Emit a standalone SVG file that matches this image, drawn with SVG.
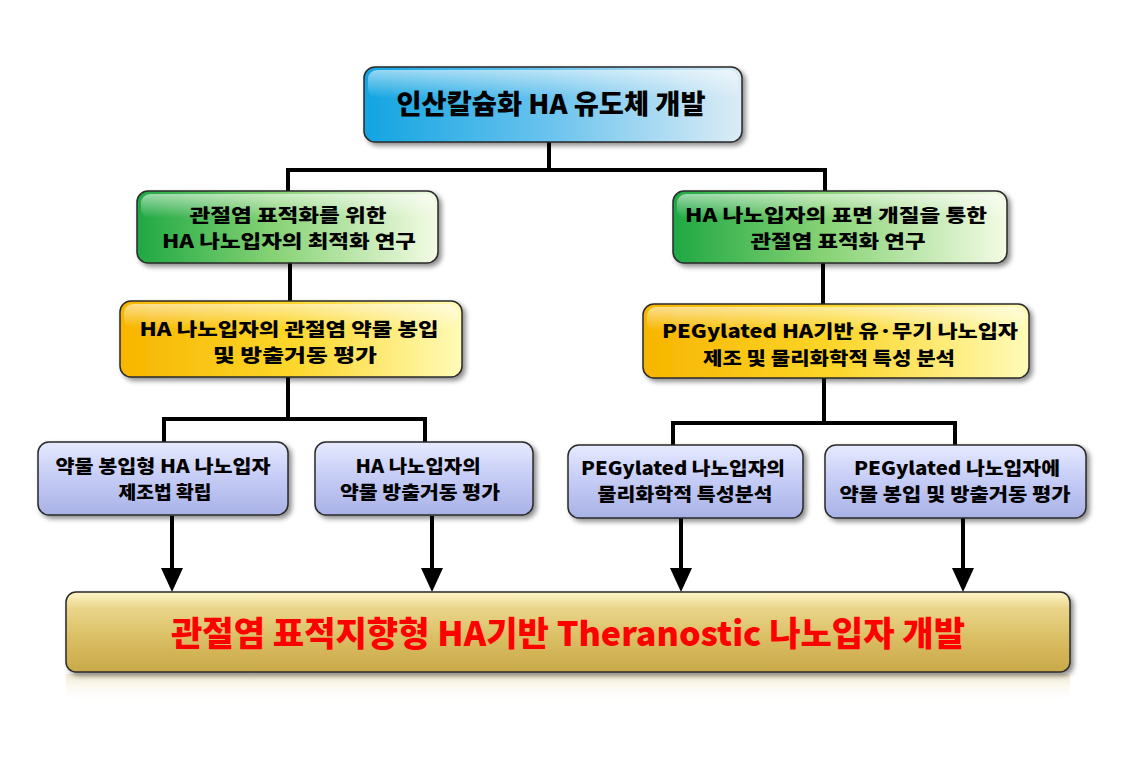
<svg xmlns="http://www.w3.org/2000/svg" width="1134" height="759" viewBox="0 0 1134 759">
<defs>
<linearGradient id="gBlue" x1="0" y1="0" x2="1" y2="0"><stop offset="0" stop-color="#12a4e2"/><stop offset="0.5" stop-color="#6cc4ee"/><stop offset="1" stop-color="#dcecf6"/></linearGradient>
<linearGradient id="gGreen" x1="0" y1="0" x2="1" y2="0"><stop offset="0" stop-color="#1fa843"/><stop offset="0.45" stop-color="#86d274"/><stop offset="1" stop-color="#f3fbe4"/></linearGradient>
<linearGradient id="gYellow" x1="0" y1="0" x2="1" y2="0"><stop offset="0" stop-color="#f7b500"/><stop offset="0.5" stop-color="#fcd62a"/><stop offset="1" stop-color="#fffbb8"/></linearGradient>
<linearGradient id="gLav" x1="0" y1="0" x2="0" y2="1"><stop offset="0" stop-color="#e6eaff"/><stop offset="0.5" stop-color="#c4cbf5"/><stop offset="1" stop-color="#a9b2e6"/></linearGradient>
<linearGradient id="gGold" x1="0" y1="0" x2="0" y2="1"><stop offset="0" stop-color="#fff6c8"/><stop offset="0.2" stop-color="#e9d58a"/><stop offset="0.6" stop-color="#d9bd62"/><stop offset="1" stop-color="#c9a94a"/></linearGradient>
<linearGradient id="gGloss" x1="0" y1="0" x2="0" y2="1"><stop offset="0" stop-color="#fff" stop-opacity="0.55"/><stop offset="1" stop-color="#fff" stop-opacity="0"/></linearGradient>
<linearGradient id="gRefl" x1="0" y1="0" x2="0" y2="1"><stop offset="0" stop-color="#e8dcae" stop-opacity="0.6"/><stop offset="1" stop-color="#ffffff" stop-opacity="0"/></linearGradient>
<filter id="sh" x="-10%" y="-20%" width="125%" height="150%"><feDropShadow dx="3" dy="3" stdDeviation="2.5" flood-color="#000" flood-opacity="0.45"/></filter>
<polygon id="ah" points="-11,-24 11,-24 0,0" fill="#000"/>
<style>
.box{stroke:#2a2a2a;stroke-width:1.5;filter:url(#sh)}
.gl{fill:url(#gGloss);stroke:none}
.ln{fill:none;stroke:#000;stroke-width:4;stroke-linejoin:miter}
.t{font-family:"Noto Sans CJK KR","Noto Sans",sans-serif;font-weight:900;text-anchor:middle;fill:#000}
.t17{font-size:18px}
.t18{font-size:18px}
.t22{font-size:27px}
.big{font-family:"Noto Sans CJK KR","Noto Sans",sans-serif;font-weight:900;font-size:34px;fill:#ff0000;text-anchor:middle}
</style>
</defs>
<rect width="1134" height="759" fill="#fff"/>

<g id="connectors">
<path class="ln" d="M549,142 V170 M288,194 V170 H825 V194"/>
<path class="ln" d="M290,263 V302"/>
<path class="ln" d="M823,263 V305"/>
<path class="ln" d="M288,377 V419 M164,443 V419 H425 V443"/>
<path class="ln" d="M824,378 V423 M673,446 V423 H955 V446"/>
<path class="ln" d="M172,516 V570"/>
<path class="ln" d="M432,516 V570"/>
<path class="ln" d="M681,518 V570"/>
<path class="ln" d="M963,518 V570"/>
<use href="#ah" x="172" y="592"/>
<use href="#ah" x="432" y="592"/>
<use href="#ah" x="681" y="592"/>
<use href="#ah" x="963" y="592"/>
</g>

<g id="n-top">
<rect class="box" x="364" y="67" width="378" height="75" rx="11" fill="url(#gBlue)"/>
<rect class="gl" x="368" y="70" width="370" height="28" rx="9"/>
<text class="t t22" x="551" y="114" textLength="309" lengthAdjust="spacingAndGlyphs">인산칼슘화 HA 유도체 개발</text>
</g>

<g id="n-green-left">
<rect class="box" x="137" y="191" width="301" height="72" rx="11" fill="url(#gGreen)"/>
<rect class="gl" x="141" y="194" width="293" height="24" rx="9"/>
<text class="t t18" x="288" y="222" textLength="197" lengthAdjust="spacingAndGlyphs">관절염 표적화를 위한</text>
<text class="t t18" x="289" y="248" textLength="254" lengthAdjust="spacingAndGlyphs">HA 나노입자의 최적화 연구</text>
</g>

<g id="n-green-right">
<rect class="box" x="673" y="191" width="334" height="72" rx="11" fill="url(#gGreen)"/>
<rect class="gl" x="677" y="194" width="326" height="24" rx="9"/>
<text class="t t18" x="836" y="222" textLength="302" lengthAdjust="spacingAndGlyphs">HA 나노입자의 표면 개질을 통한</text>
<text class="t t18" x="838" y="248" textLength="175" lengthAdjust="spacingAndGlyphs">관절염 표적화 연구</text>
</g>

<g id="n-yellow-left">
<rect class="box" x="120" y="301" width="342" height="76" rx="11" fill="url(#gYellow)"/>
<rect class="gl" x="124" y="304" width="334" height="24" rx="9"/>
<text class="t t18" x="289" y="336" textLength="299" lengthAdjust="spacingAndGlyphs">HA 나노입자의 관절염 약물 봉입</text>
<text class="t t18" x="295" y="362" textLength="164" lengthAdjust="spacingAndGlyphs">및 방출거동 평가</text>
</g>

<g id="n-yellow-right">
<rect class="box" x="643" y="304" width="386" height="74" rx="11" fill="url(#gYellow)"/>
<rect class="gl" x="647" y="307" width="378" height="24" rx="9"/>
<text class="t t18" x="840" y="338" textLength="356" lengthAdjust="spacingAndGlyphs">PEGylated HA기반 유·무기 나노입자</text>
<text class="t t18" x="829" y="365" textLength="252" lengthAdjust="spacingAndGlyphs">제조 및 물리화학적 특성 분석</text>
</g>

<g id="n-b1">
<rect class="box" x="38" y="442" width="250" height="73" rx="11" fill="url(#gLav)"/>
<text class="t t17" x="163" y="473" textLength="215" lengthAdjust="spacingAndGlyphs">약물 봉입형 HA 나노입자</text>
<text class="t t17" x="165" y="499" textLength="93" lengthAdjust="spacingAndGlyphs">제조법 확립</text>
</g>

<g id="n-b2">
<rect class="box" x="315" y="442" width="218" height="73" rx="11" fill="url(#gLav)"/>
<text class="t t17" x="418" y="473" textLength="125" lengthAdjust="spacingAndGlyphs">HA 나노입자의</text>
<text class="t t17" x="420" y="499" textLength="160" lengthAdjust="spacingAndGlyphs">약물 방출거동 평가</text>
</g>

<g id="n-b3">
<rect class="box" x="568" y="445" width="235" height="73" rx="11" fill="url(#gLav)"/>
<text class="t t17" x="683" y="475" textLength="204" lengthAdjust="spacingAndGlyphs">PEGylated 나노입자의</text>
<text class="t t17" x="685" y="501" textLength="175" lengthAdjust="spacingAndGlyphs">물리화학적 특성분석</text>
</g>

<g id="n-b4">
<rect class="box" x="825" y="445" width="261" height="73" rx="11" fill="url(#gLav)"/>
<text class="t t17" x="957" y="475" textLength="206" lengthAdjust="spacingAndGlyphs">PEGylated 나노입자에</text>
<text class="t t17" x="955" y="501" textLength="231" lengthAdjust="spacingAndGlyphs">약물 봉입 및 방출거동 평가</text>
</g>

<g id="n-bottom">
<rect x="66" y="674" width="1004" height="30" fill="url(#gRefl)"/>
<rect class="box" x="66" y="592" width="1004" height="80" rx="10" fill="url(#gGold)"/>
<text class="big" x="568" y="646" textLength="794" lengthAdjust="spacingAndGlyphs">관절염 표적지향형 HA기반 Theranostic 나노입자 개발</text>
</g>
</svg>
